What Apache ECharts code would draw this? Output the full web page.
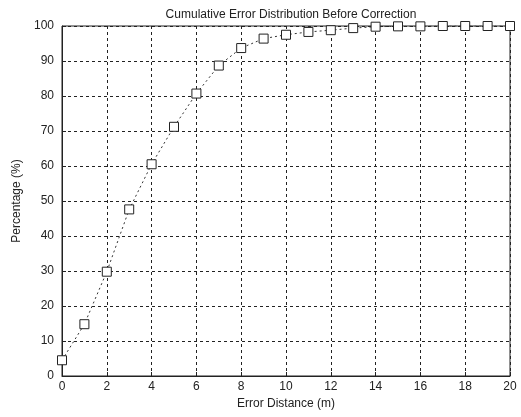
<!DOCTYPE html>
<html>
<head>
<meta charset="utf-8">
<script src="https://cdn.jsdelivr.net/npm/echarts@6/dist/echarts.min.js"></script>
<style>
  html, body { margin: 0; padding: 0; background: #fff; }
  #chart { width: 521px; height: 417px; }
</style>
</head>
<body>
<div id="chart"></div>
<script>
// error distance (m) and cumulative percentage
var distances = [0, 1, 2, 3, 4, 5, 6, 7, 8, 9, 10, 11, 12, 13, 14, 15, 16, 17, 18, 19, 20]
var percentages = [4.5, 14.8, 29.8, 47.6, 60.5, 71.2, 80.7, 88.7, 93.7, 96.4, 97.5, 98.3, 98.8, 99.4, 99.8, 99.9, 99.9, 100, 100, 100, 100]

var points = distances.map(function(d, i) { return [d, percentages[i]] })

var myChart = echarts.init(document.getElementById('chart'))
var font = 'Liberation Sans, Arial, sans-serif'
var option = {
  backgroundColor: '#fff',
  animation: false,
  title: {
    text: 'Cumulative Error Distribution Before Correction',
    left: 286,
    textAlign: 'center',
    top: 4,
    textStyle: { fontFamily: font, fontSize: 12, fontWeight: 'normal', color: '#222' }
  },
  grid: {
    left: 62,
    right: 11,
    top: 26,
    bottom: 41,
    show: true,
    borderColor: '#222',
    borderWidth: 1
  },
  xAxis: {
    type: 'value',
    min: 0,
    max: 20,
    interval: 2,
    name: 'Error Distance (m)',
    nameLocation: 'middle',
    nameGap: 15,
    nameTextStyle: { fontFamily: font, fontSize: 12, color: '#222' },
    axisLine: { show: true, lineStyle: { color: '#222' } },
    axisTick: { show: true, inside: true, length: 4, lineStyle: { color: '#222' } },
    axisLabel: { fontFamily: font, fontSize: 12, color: '#222', margin: 5 },
    splitLine: { show: true, lineStyle: { color: '#222', type: [3, 3], width: 1 } }
  },
  yAxis: {
    type: 'value',
    min: 0,
    max: 100,
    interval: 10,
    name: 'Percentage (%)',
    nameLocation: 'middle',
    nameGap: 36,
    nameTextStyle: { fontFamily: font, fontSize: 12, color: '#222' },
    axisLine: { show: true, lineStyle: { color: '#222' } },
    axisTick: { show: true, inside: true, length: 4, lineStyle: { color: '#222' } },
    axisLabel: { fontFamily: font, fontSize: 12, color: '#222', margin: 8 },
    splitLine: { show: true, lineStyle: { color: '#222', type: [3, 3], width: 1 } }
  },
  series: [{
    type: 'line',
    data: points,
    symbol: 'rect',
    symbolSize: 9,
    showAllSymbol: true,
    lineStyle: { color: '#333', width: 1, type: [2, 3] },
    itemStyle: { color: '#fff', borderColor: '#222', borderWidth: 1 }
  }]
}
myChart.setOption(option)
</script>
</body>
</html>
